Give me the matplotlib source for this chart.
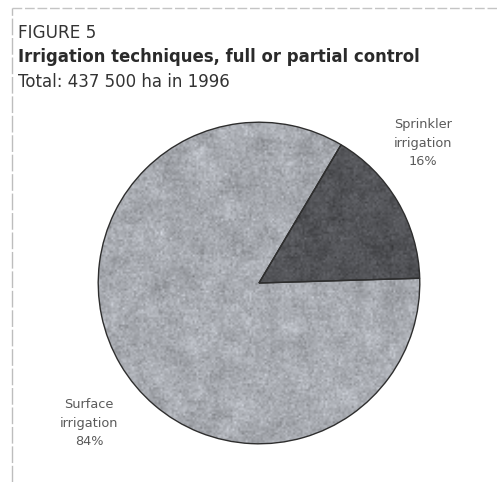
import matplotlib.pyplot as plt
import numpy as np
from matplotlib.lines import Line2D

# Irrigation techniques, full or partial control (1996)
techniques = ['Surface\nirrigation', 'Sprinkler\nirrigation']
shares = [84, 16]
colors = ['#a8abb1', '#525357']
label_pos = [(89, 423), (423, 143)]   # label centres in pixels

W, H = 497, 482
fig = plt.figure(figsize=(W / 100, H / 100), dpi=100)
fig.patch.set_facecolor('white')

plt.rcParams['font.family'] = ['DejaVu Sans']

# frame lines along the top and left edge
fig.add_artist(Line2D([12 / W, 1], [1 - 8 / H] * 2, transform=fig.transFigure,
                      color='#c4c4c4', lw=1, ls=(0, (7, 2))))
fig.add_artist(Line2D([12 / W] * 2, [0, 1 - 8 / H], transform=fig.transFigure,
                      color='#bdbdbd', lw=1, ls=(0, (12, 2))))

# headings
fig.text(18 / W, 1 - 38 / H, 'FIGURE 5', fontsize=12.2, color='#333333',
         va='baseline')
fig.text(18 / W, 1 - 62 / H, 'Irrigation techniques, full or partial control',
         fontsize=11.9, fontweight='bold', color='#2a2a2a', va='baseline')
fig.text(18 / W, 1 - 87 / H, 'Total: 437 500 ha in 1996', fontsize=12,
         color='#333333', va='baseline')

# pie
cx, cy, r = 259, 283, 164
ax = fig.add_axes([(cx - r) / W, (H - cy - r) / H, 2 * r / W, 2 * r / H])
wedges, _ = ax.pie(shares, colors=colors, startangle=59.3, counterclock=True,
                   wedgeprops=dict(edgecolor='#2e2e2e', linewidth=1.0))
ax.set_xlim(-1.02, 1.02)
ax.set_ylim(-1.02, 1.02)
ax.set_aspect('equal')

# grainy print texture inside each wedge
rng = np.random.default_rng(7)
n = 170


def blur(a, k):
    out = np.zeros_like(a)
    for dx in range(-k, k + 1):
        for dy in range(-k, k + 1):
            out += np.roll(np.roll(a, dx, 0), dy, 1)
    return out / (2 * k + 1) ** 2


fine = rng.normal(size=(n, n))
coarse = blur(rng.normal(size=(n, n)), 4) * 4
grain = fine * 0.6 + coarse * 0.7
grain = grain / grain.std()

for w, c in zip(wedges, colors):
    base = np.array(plt.matplotlib.colors.to_rgb(c))
    amp = 0.07 if base.mean() > 0.5 else 0.10
    img = np.clip(base[None, None, :] * (1 + amp * grain[:, :, None]), 0, 1)
    im = ax.imshow(img, extent=(-1, 1, -1, 1), interpolation='bilinear',
                   zorder=2)
    im.set_clip_path(w)
    w.set_facecolor('none')
    w.set_zorder(3)

# wedge labels
for name, share, (px, py) in zip(techniques, shares, label_pos):
    fig.text(px / W, 1 - py / H, f'{name}\n{share}%', fontsize=9.3,
             color='#5a5a5a', ha='center', va='center', linespacing=1.55)

fig.savefig('out.png', dpi=100, facecolor='white')
